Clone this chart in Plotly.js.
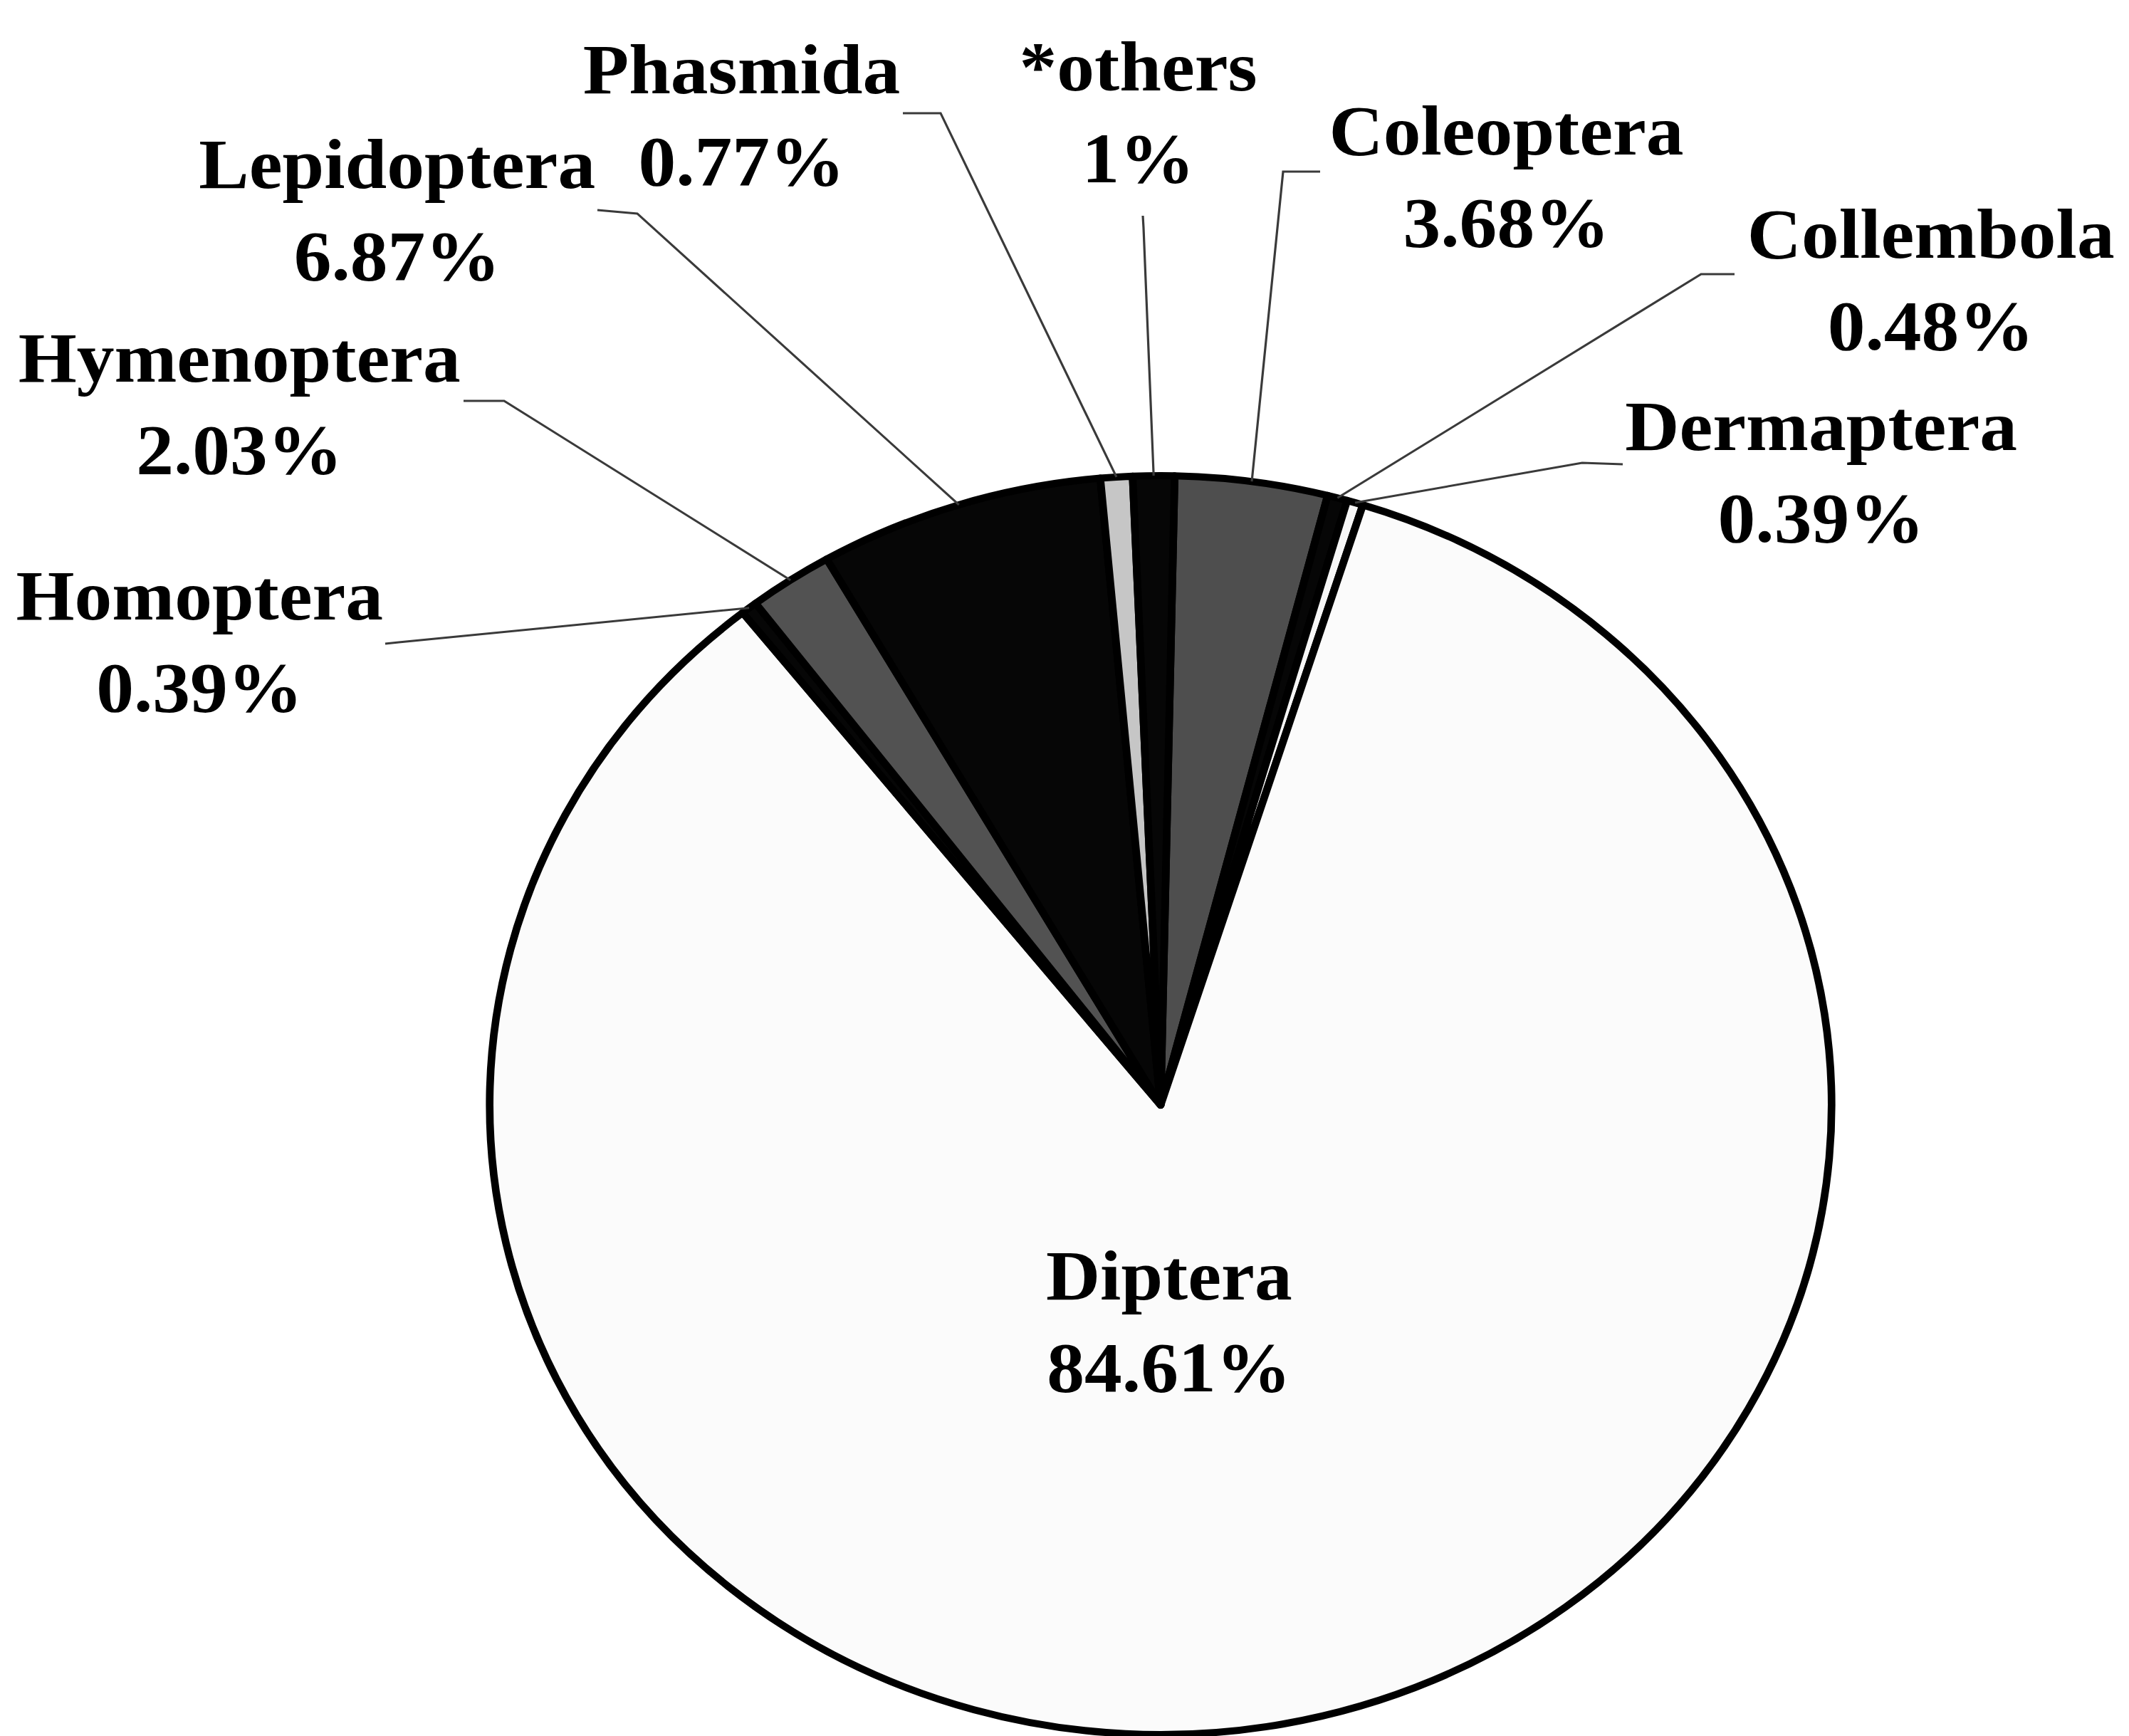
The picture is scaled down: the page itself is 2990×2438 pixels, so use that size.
<!DOCTYPE html>
<html>
<head>
<meta charset="utf-8">
<script src="https://cdn.plot.ly/plotly-3.0.1.min.js"></script>
<style>
  html, body { margin: 0; padding: 0; background: #ffffff; overflow: hidden; }
  #wrap { width: 2990px; height: 2438px; overflow: hidden; }
  #plot { width: 2805px; height: 2438px; transform-origin: 0 0; }
</style>
</head>
<body>
<div id="wrap"><div id="plot"></div></div>
<script>
// ---- data ----
const categories = ['Coleoptera', 'Collembola', 'Dermaptera', 'Diptera', 'Homoptera',
                    'Hymenoptera', 'Lepidoptera', 'Phasmida', '*others'];
const percents = [3.68, 0.48, 0.39, 84.61, 0.39, 2.03, 6.87, 0.77, 1];
const percentLabels = ['3.68%', '0.48%', '0.39%', '84.61%', '0.39%', '2.03%', '6.87%', '0.77%', '1%'];

// ---- styles ----
const sliceColors = ['#4e4e4e', '#060606', '#f6f6f6', '#fbfbfb', '#060606',
                     '#525252', '#060606', '#c6c6c6', '#060606'];

// geometry of the page (scan is wider than tall by this factor)
const W = 2805, H = 2438, STRETCH = 2990 / 2805;
document.getElementById('plot').style.transform = 'scaleX(' + STRETCH + ')';
const CX = 1630 / STRETCH, CY = 1552, R = 884;
const ROT = 1.2;

// label placements in page pixels: label centre, then leader stub start & elbow
const labelPlace = {
  'Coleoptera':  {x: 2115, y: 248, s: [1854, 241], e: [1802, 241]},
  'Collembola':  {x: 2712, y: 393, s: [2436, 385], e: [2389, 385]},
  'Dermaptera':  {x: 2558, y: 663, s: [2279, 652], e: [2222, 650]},
  'Diptera':     {x: 1642, y: 1856},
  'Homoptera':   {x: 280,  y: 901, s: [541, 904],  e: [560, 902]},
  'Hymenoptera': {x: 336,  y: 567, s: [651, 563],  e: [708, 563]},
  'Lepidoptera': {x: 558,  y: 295, s: [839, 295],  e: [895, 300]},
  'Phasmida':    {x: 1041, y: 162, s: [1268, 159], e: [1321, 159]},
  '*others':     {x: 1598, y: 158, s: [1605, 303], e: [1606, 320]}
};

const px2fx = x => x / 2990;
const px2fy = y => 1 - y / H;

const total = percents.reduce((a, b) => a + b, 0);
const annotations = [];
const shapes = [];
let cum = 0;
categories.forEach((cat, i) => {
  const mid = ROT + 360 * (cum + percents[i] / 2) / total;
  cum += percents[i];
  const p = labelPlace[cat];
  annotations.push({
    xref: 'paper', yref: 'paper', x: px2fx(p.x), y: px2fy(p.y),
    xanchor: 'center', yanchor: 'middle', showarrow: false, align: 'center',
    text: '<b>' + cat + '<br>' + percentLabels[i] + '</b>',
    font: {family: 'Liberation Serif, Times New Roman, serif', size: 99, color: '#000000'}
  });
  if (p.s) {
    const th = mid * Math.PI / 180;
    const ex = (CX + R * Math.sin(th)) / W;
    const ey = 1 - (CY - R * Math.cos(th)) / H;
    shapes.push({
      type: 'path', xref: 'paper', yref: 'paper', layer: 'above',
      path: 'M ' + px2fx(p.s[0]) + ',' + px2fy(p.s[1]) +
            ' L ' + px2fx(p.e[0]) + ',' + px2fy(p.e[1]) +
            ' L ' + ex + ',' + ey,
      line: {color: '#3a3a3a', width: 3}
    });
  }
});

const trace = {
  type: 'pie',
  labels: categories,
  values: percents,
  sort: false,
  direction: 'clockwise',
  rotation: ROT,
  textinfo: 'none',
  hoverinfo: 'skip',
  showlegend: false,
  marker: {colors: sliceColors, line: {color: '#000000', width: 10}},
  domain: {x: [(CX - R) / W, (CX + R) / W], y: [1 - (CY + R) / H, 1 - (CY - R) / H]}
};

const layout = {
  width: W, height: H,
  margin: {l: 0, r: 0, t: 0, b: 0},
  paper_bgcolor: '#ffffff',
  plot_bgcolor: '#ffffff',
  showlegend: false,
  annotations: annotations,
  shapes: shapes
};

Plotly.newPlot('plot', [trace], layout, {staticPlot: true, displayModeBar: false});
</script>
</body>
</html>
